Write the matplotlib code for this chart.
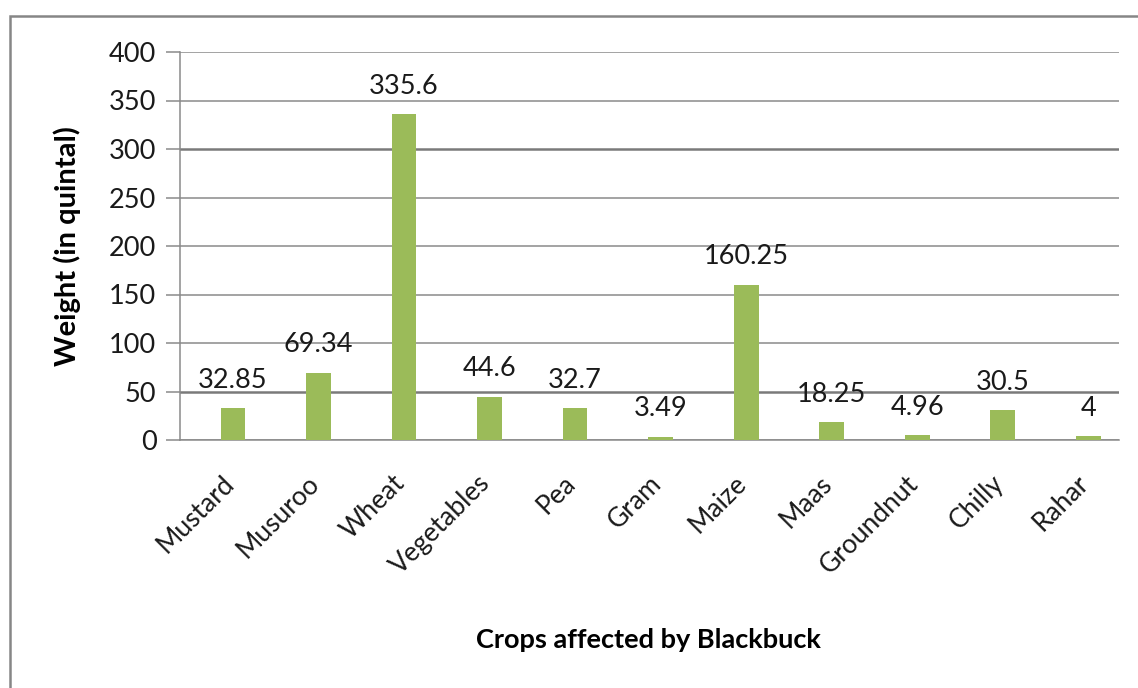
import matplotlib
matplotlib.use("Agg")
import matplotlib.pyplot as plt
from matplotlib.patches import Rectangle
from matplotlib.transforms import ScaledTranslation

crops = ["Mustard", "Musuroo", "Wheat", "Vegetables", "Pea", "Gram", "Maize",
         "Maas", "Groundnut", "Chilly", "Rahar"]
weights = [32.85, 69.34, 335.6, 44.6, 32.7, 3.49, 160.25, 18.25, 4.96, 30.5, 4]
labels = ["32.85", "69.34", "335.6", "44.6", "32.7", "3.49", "160.25", "18.25",
          "4.96", "30.5", "4"]
yticks = [0, 50, 100, 150, 200, 250, 300, 350, 400]

plt.rcParams['font.family'] = ['Lato', 'DejaVu Sans']

W, H = 1138, 688
fig = plt.figure(figsize=(W / 100, H / 100), dpi=100)
fig.patches.append(Rectangle((10 / W, 0 - 0.05), 1.1, 1 - 16 / H + 0.05,
                             transform=fig.transFigure, fill=False,
                             edgecolor="#868686", linewidth=1.8))

ax = fig.add_axes([180 / W, 1 - 440 / H, (1119 - 180) / W, (440 - 52) / H])
x = list(range(len(crops)))
ax.bar(x, weights, width=0.29, color="#9BBB59", zorder=3)
ax.set_xlim(-0.62, len(crops) - 1 + 0.36)
ax.set_ylim(0, 400)
ax.set_yticks(yticks)
ax.set_yticklabels([str(v) for v in yticks], fontsize=19.5, color="#1a1a1a")
ax.yaxis.grid(True, color="#8a8a8a", linewidth=1.1, zorder=0)
for t, gl in zip(yticks, ax.get_ygridlines()):
    if t in (50, 300):
        gl.set_linewidth(1.8)
        gl.set_color("#7a7a7a")
ax.set_axisbelow(True)
for s in ("top", "right"):
    ax.spines[s].set_visible(False)
for s in ("left", "bottom"):
    ax.spines[s].set_color("#8a8a8a")
    ax.spines[s].set_linewidth(1.1)
ax.tick_params(axis="y", length=10, color="#8a8a8a", width=1.1, pad=7)
ax.tick_params(axis="x", length=0, pad=22)
ax.set_xticks(x)
ax.set_xticklabels(crops, rotation=45, ha="right", rotation_mode="anchor",
                   fontsize=19, color="#1a1a1a")
shift = ScaledTranslation(-12 / 100, 0, fig.dpi_scale_trans)
for lbl in ax.get_xticklabels():
    lbl.set_transform(lbl.get_transform() + shift)

for xi, v, lab in zip(x, weights, labels):
    ax.annotate(lab, (xi, v), xytext=(0, 11), textcoords="offset points",
                ha="center", va="bottom", fontsize=19.5, color="#1a1a1a")

ax.set_ylabel("Weight (in quintal)", fontsize=21, fontweight="bold")
ax.yaxis.set_label_coords((81 - 180) / (1119 - 180), 0.5)
fig.text(648 / W, 1 - 640 / H, "Crops affected by Blackbuck", ha="center",
         va="center", fontsize=19.5, fontweight="bold")

fig.savefig("out.png", dpi=100)
